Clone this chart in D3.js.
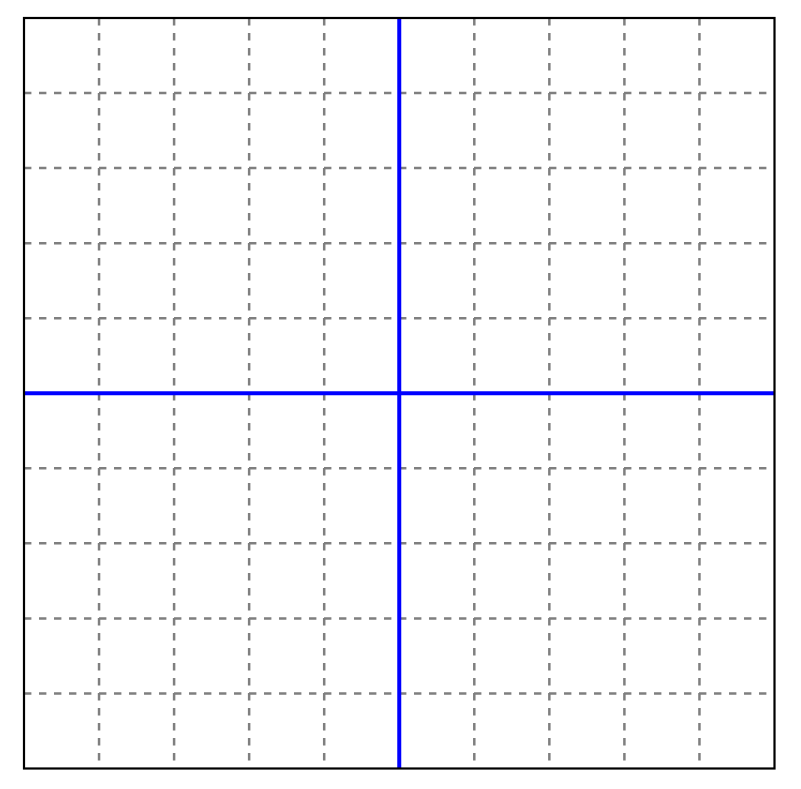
<!DOCTYPE html>
<html>
<head>
<meta charset="utf-8">
<script src="https://cdn.jsdelivr.net/npm/d3@7"></script>
<style>
html, body { margin: 0; padding: 0; background: #fff; }
svg { display: block; }
</style>
</head>
<body>
<svg id="chart" width="801" height="789"></svg>
<script>
const xDomain = [-5, 5];
const yDomain = [-5, 5];
const xGridTicks = [-4, -3, -2, -1, 0, 1, 2, 3, 4];
const yGridTicks = [-4, -3, -2, -1, 0, 1, 2, 3, 4];
const axisX = [0];
const axisY = [0];

(function () {
const svg = d3.select("#chart");
const pLeft = 24, pRight = 774.5, pTop = 18, pBottom = 768.5;
const x = d3.scaleLinear().domain(xDomain).range([pLeft, pRight]);
const y = d3.scaleLinear().domain(yDomain).range([pBottom, pTop]);

const g = svg.append("g");

g.selectAll("line.vgrid").data(xGridTicks).enter().append("line")
  .attr("class", "vgrid")
  .attr("x1", d => x(d)).attr("x2", d => x(d))
  .attr("y1", pTop).attr("y2", pBottom)
  .attr("stroke", "#7f7f7f").attr("stroke-width", 2.5)
  .attr("stroke-dasharray", "7.4,7.6");
g.selectAll("line.hgrid").data(yGridTicks).enter().append("line")
  .attr("class", "hgrid")
  .attr("y1", d => y(d)).attr("y2", d => y(d))
  .attr("x1", pLeft).attr("x2", pRight)
  .attr("stroke", "#7f7f7f").attr("stroke-width", 2.5)
  .attr("stroke-dasharray", "7.4,7.6");

g.selectAll("line.ax").data(axisX).enter().append("line")
  .attr("class", "ax")
  .attr("x1", d => x(d)).attr("x2", d => x(d))
  .attr("y1", pTop).attr("y2", pBottom)
  .attr("stroke", "#0000ff").attr("stroke-width", 4);
g.selectAll("line.ay").data(axisY).enter().append("line")
  .attr("class", "ay")
  .attr("y1", d => y(d)).attr("y2", d => y(d))
  .attr("x1", pLeft).attr("x2", pRight)
  .attr("stroke", "#0000ff").attr("stroke-width", 4);

g.append("rect")
  .attr("x", pLeft).attr("y", pTop)
  .attr("width", pRight - pLeft).attr("height", pBottom - pTop)
  .attr("fill", "none").attr("stroke", "#000").attr("stroke-width", 2.2);
})();
</script>
</body>
</html>
